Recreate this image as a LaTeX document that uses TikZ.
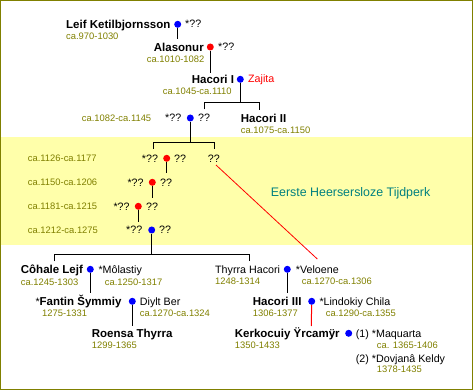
\documentclass[tikz,border=0pt]{standalone}
\usepackage{fontspec}
\setmainfont{Liberation Sans}
\definecolor{olivetxt}{HTML}{808000}
\definecolor{bandyellow}{HTML}{FFFFAA}
\definecolor{erateal}{HTML}{008080}
\begin{document}
\begin{tikzpicture}[x=1pt,y=-1pt,
  nm/.style={anchor=west, inner sep=0pt, text height=8.2pt, text depth=0pt, font=\fontsize{11.5}{13}\selectfont\bfseries},
  tx/.style={anchor=west, inner sep=0pt, text height=7.7pt, text depth=0pt, font=\fontsize{10.7}{12}\selectfont},
  dt/.style={anchor=west, inner sep=0pt, text height=6.7pt, text depth=0pt, font=\fontsize{9.4}{11}\selectfont, text=olivetxt},
  bdot/.style={circle, fill=blue, minimum size=7pt, inner sep=0pt},
  rdot/.style={circle, fill=red, minimum size=7pt, inner sep=0pt},
  conn/.style={line width=1pt, black},
  rconn/.style={line width=1pt, red},
  diag/.style={line width=0.8pt, red}]
\useasboundingbox (0,0) rectangle (474,390);
\fill[bandyellow] (1,137.3) rectangle (472.5,245);
\draw[olivetxt, line width=1pt] (0.5,0.5) rectangle (472.8,389.5);

% generation 1-3
\node[nm] (n1) at (66,24) {Leif Ketilbjornsson};
\node[bdot] (d1) at (177.7,24.3) {};
\node[tx] (s1) at (185,24) {*??};
\node[dt] (y1) at (66,36) {ca.970-1030};

\node[nm] (n2) at (153.7,47) {Alasonur};
\node[rdot] (d2) at (210.3,47) {};
\node[tx] (s2) at (218,47) {*??};
\node[dt] (y2) at (146.7,59.3) {ca.1010-1082};

\node[nm] (n3) at (191.7,79) {Hacori I};
\node[bdot] (d3) at (240.3,79.3) {};
\node[tx, text=red] (s3) at (248,79) {Zajita};
\node[dt] (y3) at (162.7,90.7) {ca.1045-ca.1110};

\node[nm] (n4) at (240.7,118.3) {Hacori II};
\node[dt] (y4) at (240.7,130) {ca.1075-ca.1150};

\node[dt] (y5) at (81.7,118) {ca.1082-ca.1145};
\node[tx] (a5) at (165,118) {*??};
\node[bdot] (d4) at (190.3,118) {};
\node[tx] (b5) at (198,118) {??};

% yellow band rows
\node[dt] (y6) at (27.7,158.3) {ca.1126-ca.1177};
\node[tx] (a6) at (141.7,158.3) {*??};
\node[rdot] (d5) at (166.7,158.3) {};
\node[tx] (b6) at (174,158.3) {??};
\node[tx] (q6) at (207.7,158.3) {??};

\node[dt] (y7) at (27.7,182.3) {ca.1150-ca.1206};
\node[tx] (a7) at (127.3,182.3) {*??};
\node[rdot] (d6) at (152.3,182.3) {};
\node[tx] (b7) at (160,182.3) {??};

\node[dt] (y8) at (27.7,206.3) {ca.1181-ca.1215};
\node[tx] (a8) at (113.3,206.3) {*??};
\node[rdot] (d7) at (138.3,206.3) {};
\node[tx] (b8) at (146,206.3) {??};

\node[dt] (y9) at (27.7,230) {ca.1212-ca.1275};
\node[tx] (a9) at (126,230) {*??};
\node[bdot] (d8) at (151.7,230) {};
\node[tx] (b9) at (159,230) {??};

\node[anchor=west, inner sep=0pt, text height=9pt, text depth=0pt, font=\fontsize{12.4}{14}\selectfont, text=erateal] (era) at (270.7,191.7) {Eerste Heersersloze Tijdperk};

% lower part
\node[nm] (n10) at (20.7,269.3) {Côhale Lejf};
\node[bdot] (d9) at (90.3,269.3) {};
\node[tx] (s10) at (98.3,269.3) {*Môlastiy};
\node[dt] (y10) at (20.7,281.7) {ca.1245-1303};
\node[dt] (z10) at (104.7,281.7) {ca.1250-1317};

\node[tx] (n11) at (35.3,301.3) {*\textbf{\fontsize{11.5}{13}\selectfont Fantin Šymmiy}};
\node[bdot] (d10) at (132.3,301.3) {};
\node[tx] (s11) at (139.7,301.3) {Diylt Ber};
\node[dt] (y11) at (42,313.3) {1275-1331};
\node[dt] (z11) at (139.7,313.3) {ca.1270-ca.1324};

\node[nm] (n12) at (91.7,333.3) {Roensa Thyrra};
\node[dt] (y12) at (91.7,345.3) {1299-1365};

\node[tx] (n13) at (215,269.3) {Thyrra Hacori};
\node[bdot] (d11) at (287.3,269.3) {};
\node[tx] (s13) at (295.7,269.3) {*Veloene};
\node[dt] (y13) at (215,281.3) {1248-1314};
\node[dt] (z13) at (301.7,281.3) {ca.1270-ca.1306};

\node[nm] (n14) at (252.7,301.3) {Hacori III};
\node[bdot] (d12) at (311.7,301.3) {};
\node[tx] (s14) at (319.3,301.3) {*Lindokiy Chila};
\node[dt] (y14) at (252.7,313.3) {1306-1377};
\node[dt] (z14) at (325.7,313.3) {ca.1290-ca.1355};

\node[nm] (n15) at (234.7,333.3) {Kerkocuiy Ÿrcamÿr};
\node[bdot] (d13) at (348.7,333.3) {};
\node[tx] (s15) at (355.7,333.3) {(1) *Maquarta};
\node[dt] (y15) at (234.7,345.3) {1350-1433};
\node[dt] (z15) at (376.7,345.3) {ca. 1365-1406};
\node[tx] (s16) at (355.7,358.3) {(2) *Dovjanâ Keldy};
\node[dt] (z16) at (376.7,369.3) {1378-1435};

% connector end points
\coordinate (e1) at (177.7,39.5);
\coordinate (e2) at (210.3,72.7);
\coordinate (j3) at (240.3,102.7);
\coordinate (t3l) at (204.3,109.5);
\coordinate (t3r) at (259.3,110);
\coordinate (j4) at (190.3,142.3);
\coordinate (t4l) at (153.3,149);
\coordinate (t4r) at (214.3,149);
\coordinate (e5) at (166.7,173.3);
\coordinate (e6) at (152.3,198.3);
\coordinate (e7) at (138.3,221.7);
\coordinate (j8) at (151.7,254.7);
\coordinate (t8l) at (54.3,261.5);
\coordinate (t8r) at (249.3,261);
\coordinate (e9) at (90.3,293.3);
\coordinate (e10) at (132.3,326);
\coordinate (e11) at (287.3,293.3);
\coordinate (e12) at (311.3,326);
\coordinate (r1) at (216,165);
\coordinate (r2) at (317.3,259);

\draw[conn] (d1) -- (e1);
\draw[conn] (d2) -- (e2);
\draw[conn] (d3) -- (j3);
\draw[conn] (t3l) |- (j3) -| (t3r);
\draw[conn] (d4) -- (j4);
\draw[conn] (t4l) |- (j4) -| (t4r);
\draw[conn] (d5) -- (e5);
\draw[conn] (d6) -- (e6);
\draw[conn] (d7) -- (e7);
\draw[conn] (d8) -- (j8);
\draw[conn] (t8l) |- (j8) -| (t8r);
\draw[conn] (d9) -- (e9);
\draw[conn] (d10) -- (e10);
\draw[conn] (d11) -- (e11);
\draw[rconn] (d12) -- (e12);
\draw[diag] (r1) -- (r2);
\end{tikzpicture}
\end{document}
